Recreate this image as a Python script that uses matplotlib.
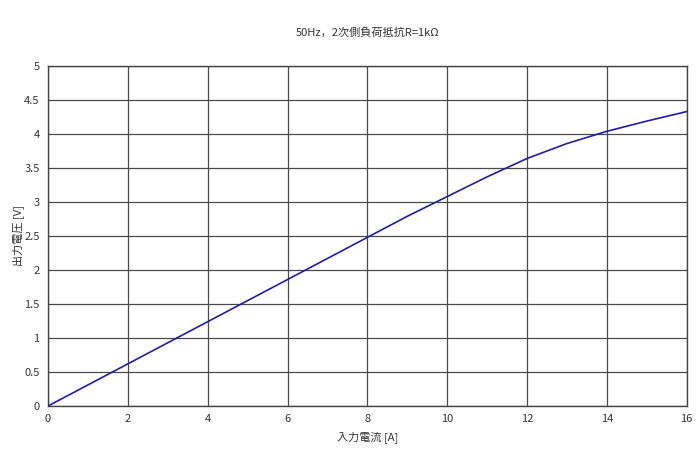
import matplotlib
matplotlib.use('Agg')
import matplotlib.pyplot as plt

plt.rcParams['font.family'] = ['Noto Sans CJK JP', 'DejaVu Sans']

current = [0, 1, 2, 3, 4, 5, 6, 7, 8, 9, 10, 11, 12, 13, 14, 15, 16]
voltage = [0, 0.31, 0.62, 0.93, 1.24, 1.55, 1.86, 2.17, 2.48, 2.79, 3.08,
           3.37, 3.64, 3.86, 4.04, 4.19, 4.33]
xticks = [0, 2, 4, 6, 8, 10, 12, 14, 16]
yticks = [0, 0.5, 1, 1.5, 2, 2.5, 3, 3.5, 4, 4.5, 5]
ytick_labels = ['0', '0.5', '1', '1.5', '2', '2.5', '3', '3.5', '4', '4.5', '5']

fig = plt.figure(figsize=(7, 4.54), dpi=100)
ax = fig.add_axes([0.0686, 0.1057, 0.9124, 0.7489])

ax.plot(current, voltage, color='#1f1f9f', linewidth=1.2, zorder=3)

ax.set_xlim(0, 16)
ax.set_ylim(0, 5)
ax.set_xticks(xticks)
ax.set_yticks(yticks)
ax.set_yticklabels(ytick_labels)
ax.tick_params(labelsize=8, colors='#333333', length=0, pad=6)
ax.grid(True, color='#4a4a4a', linewidth=0.9)
for s in ax.spines.values():
    s.set_color('#444444')
    s.set_linewidth(1.0)

ax.set_title('50Hz，2次側負荷抵抗R=1kΩ', fontsize=8, color='#333333', pad=22)
ax.set_xlabel('入力電流 [A]', fontsize=8, color='#333333', labelpad=5)
ax.set_ylabel('出力電圧 [V]', fontsize=8, color='#333333', labelpad=0)

fig.savefig('out.png', dpi=100)
